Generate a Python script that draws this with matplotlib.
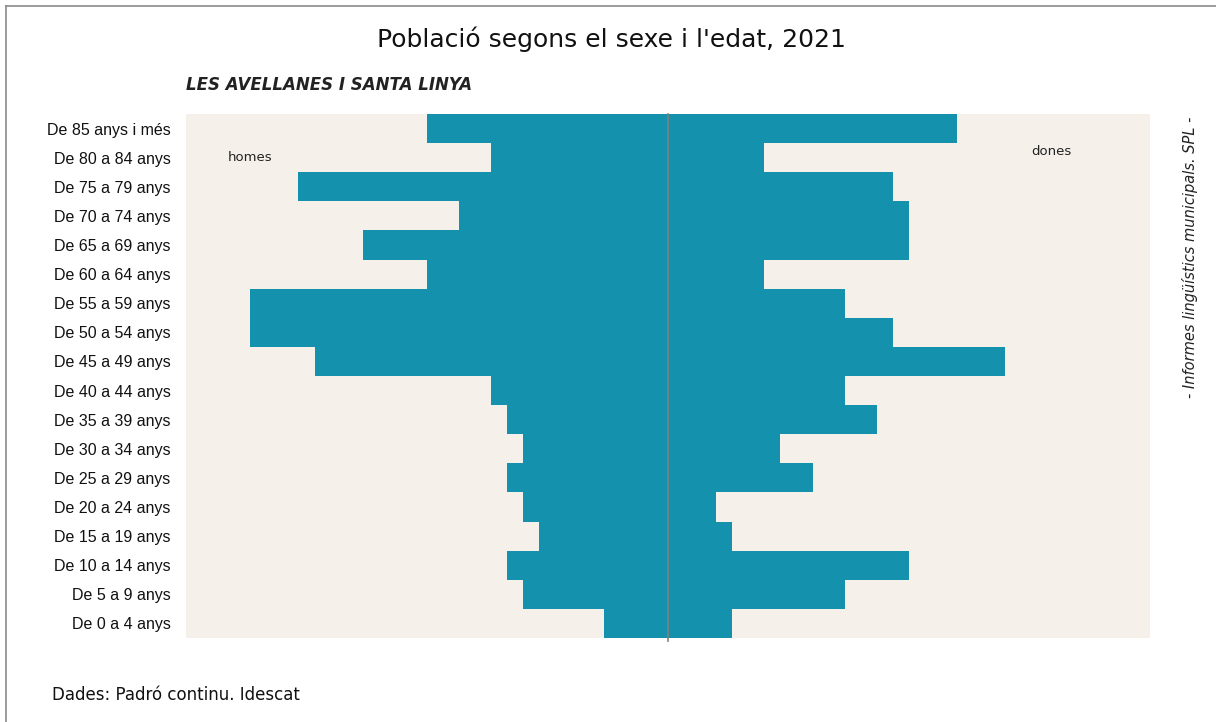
import matplotlib.pyplot as plt
from matplotlib import font_manager
from matplotlib.lines import Line2D

# age groups, youngest first (bottom of the pyramid)
groups = [
    "De 0 a 4 anys", "De 5 a 9 anys", "De 10 a 14 anys", "De 15 a 19 anys",
    "De 20 a 24 anys", "De 25 a 29 anys", "De 30 a 34 anys", "De 35 a 39 anys",
    "De 40 a 44 anys", "De 45 a 49 anys", "De 50 a 54 anys", "De 55 a 59 anys",
    "De 60 a 64 anys", "De 65 a 69 anys", "De 70 a 74 anys", "De 75 a 79 anys",
    "De 80 a 84 anys", "De 85 anys i més",
]
homes = [4, 9, 10, 8, 9, 10, 9, 10, 11, 22, 26, 26, 15, 19, 13, 23, 11, 15]
dones = [4, 11, 15, 4, 3, 9, 7, 13, 11, 21, 14, 11, 6, 15, 15, 14, 6, 18]

bar_col = "#1491ad"
bg_col = "#f5f0ea"

names = {f.name for f in font_manager.fontManager.ttflist}
narrow = "Liberation Sans Narrow" if "Liberation Sans Narrow" in names else "Liberation Sans"

fig = plt.figure(figsize=(12.16, 7.22), dpi=100)
ax = fig.add_axes([186 / 1216, 1 - 638 / 722, 964 / 1216, 524 / 722])
ax.set_facecolor(bg_col)

y = list(range(len(groups)))
ax.barh(y, [-v for v in homes], height=1.0, color=bar_col, linewidth=0)
ax.barh(y, dones, height=1.0, color=bar_col, linewidth=0)
ax.plot([0, 0], [-0.6, len(groups) - 0.5], color="#808080", lw=1.2,
        clip_on=False, zorder=3)

ax.set_xlim(-30, 30)
ax.set_ylim(-0.5, len(groups) - 0.5)
ax.set_yticks(y)
ax.set_yticklabels(groups, family=narrow, fontsize=11.5, color="#111111")
ax.set_xticks([])
ax.tick_params(axis="y", length=0, pad=11)
for s in ax.spines.values():
    s.set_visible(False)

ax.text(-27.4, 16, "homes", fontsize=9.5, va="center", ha="left", color="#222222")
ax.text(22.6, 16.2, "dones", fontsize=9.5, va="center", ha="left", color="#222222")

fig.text(0.503, 0.945, "Població segons el sexe i l'edat, 2021", ha="center",
         va="center", fontsize=18, color="#111111")
fig.text(186 / 1216, 1 - 85 / 722, "LES AVELLANES I SANTA LINYA", ha="left",
         va="center", fontsize=12, style="italic", weight="bold", color="#222222")
fig.text(1190 / 1216, 1 - 257 / 722, "- Informes lingüístics municipals. SPL -",
         rotation=90, ha="center", va="center", fontsize=10.5, style="italic",
         color="#222222")
fig.text(52 / 1216, 1 - 695 / 722, "Dades: Padró continu. Idescat", ha="left",
         va="center", fontsize=12, color="#111111")

# frame on top and left only
fig.add_artist(Line2D([6 / 1216, 6 / 1216], [0, 1 - 6 / 722],
                      transform=fig.transFigure, color="#8a8a8a", lw=1.2))
fig.add_artist(Line2D([6 / 1216, 1], [1 - 6 / 722, 1 - 6 / 722],
                      transform=fig.transFigure, color="#8a8a8a", lw=1.2))

fig.savefig("out.png", dpi=100)
